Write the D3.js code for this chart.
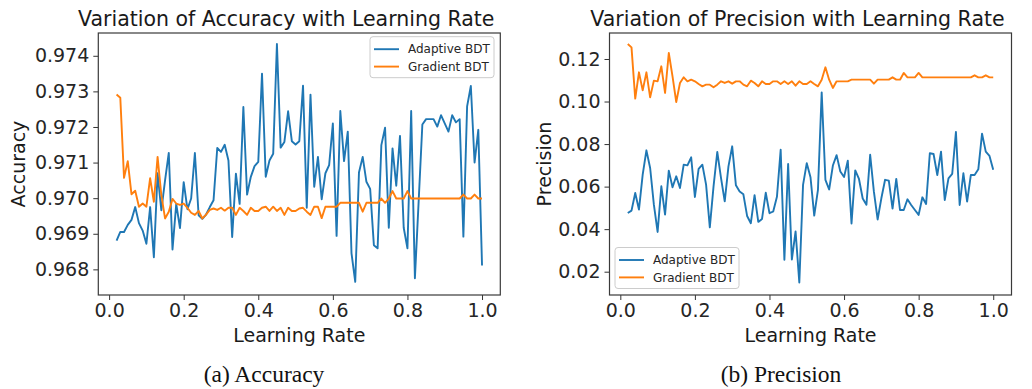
<!DOCTYPE html>
<html>
<head>
<meta charset="utf-8">
<script src="https://cdn.jsdelivr.net/npm/d3@7/dist/d3.min.js"></script>
<style>
  body { margin: 0; background: #fff; }
  svg { display: block; }
  .tick text { fill: #262626; }
</style>
</head>
<body>
<div id="chart"></div>
<script>
// learning rates (x axis)
var learningRates = [0.02, 0.03, 0.04, 0.05, 0.06, 0.07, 0.08, 0.09, 0.10, 0.11,
  0.12, 0.13, 0.14, 0.15, 0.16, 0.17, 0.18, 0.19, 0.20, 0.21,
  0.22, 0.23, 0.24, 0.25, 0.26, 0.27, 0.28, 0.29, 0.30, 0.31,
  0.32, 0.33, 0.34, 0.35, 0.36, 0.37, 0.38, 0.39, 0.40, 0.41,
  0.42, 0.43, 0.44, 0.45, 0.46, 0.47, 0.48, 0.49, 0.50, 0.51,
  0.52, 0.53, 0.54, 0.55, 0.56, 0.57, 0.58, 0.59, 0.60, 0.61,
  0.62, 0.63, 0.64, 0.65, 0.66, 0.67, 0.68, 0.69, 0.70, 0.71,
  0.72, 0.73, 0.74, 0.75, 0.76, 0.77, 0.78, 0.79, 0.80, 0.81,
  0.82, 0.83, 0.84, 0.85, 0.86, 0.87, 0.88, 0.89, 0.90, 0.91,
  0.92, 0.93, 0.94, 0.95, 0.96, 0.97, 0.98, 0.99, 1.00];

var accAdaptive = [0.96881, 0.96905, 0.96905, 0.96925, 0.96939, 0.96975, 0.96930, 0.96909, 0.96872, 0.96975,
  0.96834, 0.97070, 0.96966, 0.97050, 0.97127, 0.96856, 0.96984, 0.96916, 0.97045, 0.96969,
  0.96999, 0.97127, 0.96952, 0.96942, 0.96954, 0.96975, 0.96994, 0.97141, 0.97130, 0.97150,
  0.97106, 0.96891, 0.97069, 0.96984, 0.97256, 0.97010, 0.97060, 0.97090, 0.97102, 0.97350,
  0.97060, 0.97106, 0.97125, 0.97433, 0.97142, 0.97158, 0.97244, 0.97160, 0.97151, 0.97160,
  0.97316, 0.96973, 0.97291, 0.97032, 0.97116, 0.96997, 0.97070, 0.97093, 0.97210, 0.96894,
  0.97245, 0.97104, 0.97187, 0.96845, 0.96765, 0.97072, 0.97116, 0.97046, 0.97026, 0.96868,
  0.96859, 0.97149, 0.97198, 0.96917, 0.97140, 0.97035, 0.97175, 0.96917, 0.96859, 0.97245,
  0.96775, 0.96990, 0.97207, 0.97222, 0.97222, 0.97222, 0.97201, 0.97233, 0.97210, 0.97187,
  0.97233, 0.97213, 0.97222, 0.96892, 0.97258, 0.97315, 0.97100, 0.97192, 0.96811];

var accGradient = [0.97291, 0.97282, 0.97057, 0.97104, 0.97011, 0.97021, 0.96976, 0.96985, 0.96976, 0.97056,
  0.96990, 0.97116, 0.97009, 0.96943, 0.96962, 0.96998, 0.96985, 0.96981, 0.96985, 0.96973,
  0.96959, 0.96953, 0.96964, 0.96943, 0.96954, 0.96967, 0.96971, 0.96967, 0.96973, 0.96965,
  0.96973, 0.96973, 0.96953, 0.96973, 0.96964, 0.96953, 0.96973, 0.96964, 0.96964, 0.96973,
  0.96976, 0.96964, 0.96976, 0.96964, 0.96973, 0.96953, 0.96973, 0.96964, 0.96964, 0.96971,
  0.96973, 0.96962, 0.96953, 0.96976, 0.96976, 0.96944, 0.96976, 0.96976, 0.96976, 0.96976,
  0.96987, 0.96987, 0.96987, 0.96987, 0.96987, 0.96987, 0.96962, 0.96987, 0.96987, 0.96987,
  0.96987, 0.96999, 0.96987, 0.96999, 0.97020, 0.96999, 0.96999, 0.96999, 0.97020, 0.96999,
  0.96999, 0.96999, 0.96999, 0.96999, 0.96999, 0.96999, 0.96999, 0.96999, 0.96999, 0.96999,
  0.96999, 0.96999, 0.96999, 0.97010, 0.96999, 0.96999, 0.97010, 0.96999, 0.96999];

var precAdaptive = [0.04760, 0.04870, 0.05700, 0.04917, 0.06562, 0.07706, 0.06876, 0.05152, 0.03867, 0.06014,
  0.04682, 0.06750, 0.05967, 0.06484, 0.05936, 0.07033, 0.07001, 0.07377, 0.05512, 0.06829,
  0.07033, 0.06092, 0.04086, 0.06014, 0.07628, 0.06406, 0.05309, 0.06954, 0.07894, 0.06060,
  0.05770, 0.05638, 0.04620, 0.04280, 0.05600, 0.04340, 0.04480, 0.05710, 0.04750, 0.04830,
  0.05520, 0.07730, 0.02560, 0.07060, 0.02570, 0.03890, 0.01490, 0.06080, 0.07100, 0.06440,
  0.04640, 0.05850, 0.10430, 0.06320, 0.05865, 0.06990, 0.07480, 0.06710, 0.06450, 0.07220,
  0.04265, 0.06765, 0.06360, 0.05440, 0.05145, 0.07495, 0.05763, 0.04455, 0.05450, 0.06320,
  0.06280, 0.04970, 0.06359, 0.04901, 0.04901, 0.05403, 0.05136, 0.04901, 0.04670, 0.05497,
  0.05183, 0.07570, 0.07534, 0.06547, 0.07643, 0.05371, 0.06390, 0.06594, 0.08570, 0.05136,
  0.06625, 0.05293, 0.06547, 0.06547, 0.06813, 0.08490, 0.07643, 0.07440, 0.06790];

var precGradient = [0.12705, 0.12548, 0.10135, 0.11373, 0.10527, 0.11373, 0.10198, 0.10981, 0.10950, 0.11655,
  0.10402, 0.12282, 0.11185, 0.09978, 0.10872, 0.11138, 0.10950, 0.11028, 0.10950, 0.10825,
  0.10715, 0.10793, 0.10793, 0.10668, 0.10793, 0.10950, 0.10872, 0.10950, 0.10840, 0.10950,
  0.10950, 0.10793, 0.10715, 0.10981, 0.10872, 0.10715, 0.10950, 0.10825, 0.10825, 0.10950,
  0.10950, 0.10825, 0.10950, 0.10825, 0.10950, 0.10746, 0.10950, 0.10825, 0.10825, 0.10950,
  0.10825, 0.10715, 0.11028, 0.11608, 0.11028, 0.10637, 0.10950, 0.10950, 0.10950, 0.10950,
  0.11028, 0.11028, 0.11028, 0.11028, 0.11028, 0.11028, 0.10840, 0.11028, 0.11028, 0.11028,
  0.11028, 0.11138, 0.11028, 0.11028, 0.11342, 0.11138, 0.11138, 0.11138, 0.11342, 0.11138,
  0.11138, 0.11138, 0.11138, 0.11138, 0.11138, 0.11138, 0.11138, 0.11138, 0.11138, 0.11138,
  0.11138, 0.11138, 0.11138, 0.11232, 0.11138, 0.11138, 0.11232, 0.11138, 0.11138];

var xTicks = [0.0, 0.2, 0.4, 0.6, 0.8, 1.0];
var accTicks = [0.968, 0.969, 0.970, 0.971, 0.972, 0.973, 0.974];
var precTicks = [0.02, 0.04, 0.06, 0.08, 0.10, 0.12];
var seriesNames = ['Adaptive BDT', 'Gradient BDT'];
var colors = ['#1f77b4', '#ff7f0e'];

var width = 1032, height = 389;
var font = 'DejaVu Sans, sans-serif';

var svg = d3.select('#chart').append('svg')
  .attr('width', width).attr('height', height);

// one panel of the figure
function drawPanel(opt) {
  var x = d3.scaleLinear().domain([-0.029, 1.049]).range([opt.left, opt.right]);
  var y = d3.scaleLinear().domain(opt.yDomain).range([opt.bottom, opt.top]);

  var g = svg.append('g');

  var xAxis = g.append('g')
    .attr('transform', 'translate(0,' + opt.bottom + ')')
    .call(d3.axisBottom(x).tickValues(xTicks).tickFormat(d3.format('.1f')).tickSize(5).tickPadding(4));
  var yAxis = g.append('g')
    .attr('transform', 'translate(' + opt.left + ',0)')
    .call(d3.axisLeft(y).tickValues(opt.yTicks).tickFormat(d3.format(opt.yFormat)).tickSize(5).tickPadding(4));

  [xAxis, yAxis].forEach(function (a) {
    a.select('.domain').remove();
    a.selectAll('.tick line').attr('stroke', '#333').attr('stroke-width', 1);
    a.selectAll('.tick text').style('font-family', font).style('font-size', '19px');
  });

  var line = d3.line()
    .x(function (d, i) { return x(learningRates[i]); })
    .y(function (d) { return y(d); });

  opt.series.forEach(function (s, k) {
    g.append('path')
      .datum(s)
      .attr('fill', 'none')
      .attr('stroke', colors[k])
      .attr('stroke-width', 1.9)
      .attr('stroke-linejoin', 'round')
      .attr('d', line);
  });

  // frame
  g.append('rect')
    .attr('x', opt.left).attr('y', opt.top)
    .attr('width', opt.right - opt.left).attr('height', opt.bottom - opt.top)
    .attr('fill', 'none').attr('stroke', '#3a3a3a').attr('stroke-width', 1.2);

  var cx = (opt.left + opt.right) / 2;
  g.append('text')
    .attr('x', cx - 13).attr('y', 25.5)
    .attr('text-anchor', 'middle')
    .style('font-family', font).style('font-size', '20.5px').style('fill', '#1a1a1a')
    .text(opt.title);

  g.append('text')
    .attr('x', cx).attr('y', 341.5)
    .attr('text-anchor', 'middle')
    .style('font-family', font).style('font-size', '19px').style('fill', '#1a1a1a')
    .text('Learning Rate');

  g.append('text')
    .attr('transform', 'translate(' + opt.yLabelX + ',' + ((opt.top + opt.bottom) / 2) + ') rotate(-90)')
    .attr('text-anchor', 'middle')
    .style('font-family', font).style('font-size', '19px').style('fill', '#1a1a1a')
    .text(opt.yLabel);

  g.append('text')
    .attr('x', opt.captionX).attr('y', 382)
    .attr('text-anchor', 'middle')
    .style('font-family', 'Liberation Serif, Times New Roman, serif').style('font-size', '23.5px').style('fill', '#111')
    .text(opt.caption);

  // legend
  var lg = g.append('g').attr('transform', 'translate(' + opt.legend[0] + ',' + opt.legend[1] + ')');
  lg.append('rect')
    .attr('width', 124).attr('height', 41).attr('rx', 3)
    .attr('fill', 'rgba(255,255,255,0.8)').attr('stroke', '#cccccc').attr('stroke-width', 1);
  seriesNames.forEach(function (name, k) {
    var yy = 12.5 + k * 17.4;
    lg.append('line')
      .attr('x1', 4).attr('x2', 29).attr('y1', yy).attr('y2', yy)
      .attr('stroke', colors[k]).attr('stroke-width', 1.9);
    lg.append('text')
      .attr('x', 38).attr('y', yy + 4.3)
      .style('font-family', font).style('font-size', '12px').style('fill', '#262626')
      .text(name);
  });
}

drawPanel({
  left: 98.3, right: 500.3, top: 33, bottom: 295,
  yDomain: [0.96728, 0.97464], yTicks: accTicks, yFormat: '.3f',
  series: [accAdaptive, accGradient],
  title: 'Variation of Accuracy with Learning Rate',
  yLabel: 'Accuracy', yLabelX: 25,
  caption: '(a) Accuracy', captionX: 264,
  legend: [370, 36.7]
});

drawPanel({
  left: 609.5, right: 1011.5, top: 33, bottom: 295,
  yDomain: [0.00904, 0.13222], yTicks: precTicks, yFormat: '.2f',
  series: [precAdaptive, precGradient],
  title: 'Variation of Precision with Learning Rate',
  yLabel: 'Precision', yLabelX: 551,
  caption: '(b) Precision', captionX: 781,
  legend: [615, 247.5]
});
</script>
</body>
</html>
